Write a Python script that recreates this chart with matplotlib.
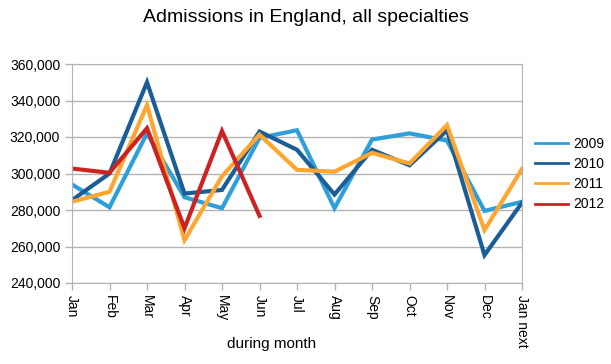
import matplotlib
matplotlib.use("Agg")
import matplotlib.pyplot as plt
from matplotlib.ticker import FuncFormatter

months = ["Jan", "Feb", "Mar", "Apr", "May", "Jun", "Jul", "Aug", "Sep", "Oct", "Nov", "Dec", "Jan next"]
y2009 = [294000, 281500, 322000, 287000, 281000, 319500, 323700, 281000, 318600, 322000, 318000, 279500, 284500]
y2010 = [285400, 300000, 350000, 289000, 291000, 323000, 313000, 288500, 313000, 304500, 323700, 255300, 284000]
y2011 = [284500, 290000, 337500, 263500, 298500, 321300, 302000, 301000, 311300, 305500, 326500, 269000, 302500]
y2012 = [302700, 300400, 324800, 270000, 323300, 276800]
series = [("2009", y2009, "#2e9fd9"), ("2010", y2010, "#1b5d97"),
          ("2011", y2011, "#ffa630"), ("2012", y2012, "#cc2222")]

plt.rcParams['font.family'] = ['Liberation Sans', 'DejaVu Sans']
fig = plt.figure(figsize=(6.11, 3.64), dpi=100)
ax = fig.add_axes([72/611, 1-283/364, 450/611, 219/364])

x = list(range(len(months)))
for name, vals, col in series:
    ax.plot(x[:len(vals)], vals, color=col, lw=3.0, label=name, solid_joinstyle='miter')

ax.set_xlim(0, 12)
ax.set_ylim(240000, 360000)
ax.set_yticks(range(240000, 360001, 20000))
ax.yaxis.set_major_formatter(FuncFormatter(lambda v, p: f"{int(v):,}"))
ax.set_xticks(x)
ax.set_xticklabels(months, rotation=270, va='top', ha='center', fontsize=10.5)
ax.grid(axis='y', color='#b3b3b3', lw=1)
for s in ax.spines.values():
    s.set_color('#b3b3b3')
ax.tick_params(axis='both', colors='#b3b3b3', labelcolor='black', labelsize=10, length=5, width=1)
ax.set_xlabel("during month", fontsize=11)
ax.xaxis.set_label_coords((272 - 72) / 450, -(344 - 283) / 219)
ax.xaxis.label.set_va('center')
fig.text(0.5, 1-18/364, "Admissions in England, all specialties", ha='center', va='center', fontsize=14)
leg = ax.legend(loc='upper left', bbox_to_anchor=(1.0, 0.725), frameon=False, fontsize=10,
                handlelength=2.4, labelspacing=0.45, handletextpad=0.4)
for l in leg.get_lines():
    l.set_linewidth(2)
fig.savefig("out.png", dpi=100)
